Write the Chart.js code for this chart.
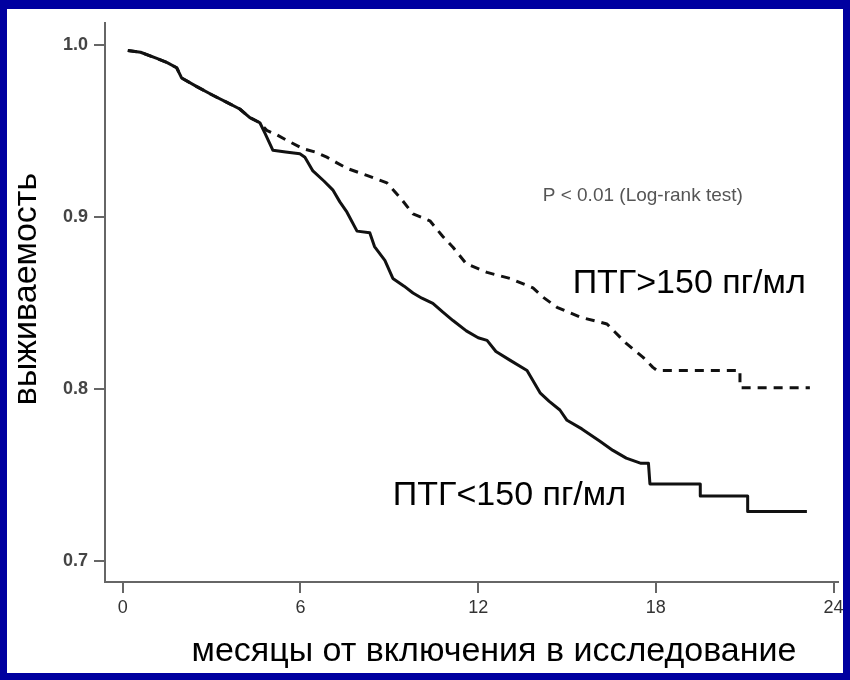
<!DOCTYPE html>
<html>
<head>
<meta charset="utf-8">
<script src="https://cdn.jsdelivr.net/npm/chart.js@4.4.1/dist/chart.umd.min.js"></script>
<style>
  html, body { margin: 0; padding: 0; background: #0000a0; }
  #wrap { width: 850px; height: 680px; }
</style>
</head>
<body>
<div id="wrap"><canvas id="km" width="850" height="680"></canvas></div>
<script>
const FONT = "'Liberation Sans', Arial, sans-serif";
const BLUE = '#0000a0';
const AXIS = '#666';

// both groups share the first ~4.6 months
const commonMonths = [0.17, 0.6, 1.15, 1.5, 1.82, 1.99, 2.5, 3.04, 3.5, 3.95, 4.29, 4.63];
const commonSurv   = [0.997, 0.996, 0.9924, 0.990, 0.987, 0.981, 0.976, 0.971, 0.967, 0.963, 0.958, 0.955];

// ПТГ<150 пг/мл (solid); repeated months mark the vertical drops of the tail
const lowMonths = [4.8, 5.07, 5.5, 5.98, 6.15, 6.42, 6.8, 7.09, 7.33, 7.57, 7.91, 8.34, 8.5, 8.85, 9.12,
  9.5, 9.8, 10.1, 10.47, 10.8, 11.15, 11.6, 12.0, 12.3, 12.6, 13.07, 13.65, 14.09, 14.4, 14.76, 15.0,
  15.5, 16.1, 16.55, 17.0, 17.5, 17.75, 17.8, 19.5, 19.5, 21.1, 21.1, 23.1];
const lowSurv = [0.949, 0.939, 0.938, 0.937, 0.935, 0.927, 0.921, 0.916, 0.909, 0.903, 0.892, 0.891, 0.883, 0.875, 0.8645,
  0.860, 0.856, 0.853, 0.850, 0.845, 0.840, 0.834, 0.830, 0.8285, 0.822, 0.817, 0.811, 0.798, 0.793, 0.788, 0.782,
  0.777, 0.770, 0.7645, 0.760, 0.757, 0.757, 0.745, 0.745, 0.738, 0.738, 0.729, 0.729];

// ПТГ>150 пг/мл (dashed)
const highMonths = [4.86, 5.2, 5.54, 6.08, 6.5, 6.89, 7.2, 7.57, 8.24, 8.92, 9.36, 9.8, 10.37, 10.8, 11.15,
  11.6, 12.3, 13.07, 13.85, 14.2, 14.66, 15.44, 16.35, 17.0, 17.57, 17.9, 18.04, 20.84, 20.84, 23.2];
const highSurv = [0.9506, 0.948, 0.9448, 0.940, 0.938, 0.935, 0.932, 0.9285, 0.9244, 0.920, 0.9116, 0.902, 0.898, 0.889, 0.8826,
  0.873, 0.868, 0.8645, 0.859, 0.8535, 0.8477, 0.842, 0.838, 0.8267, 0.8186, 0.8128, 0.811, 0.811, 0.801, 0.801];

const xTicks = [0, 6, 12, 18, 24];
const yTicks = [0.7, 0.8, 0.9, 1.0];

function toPoints(months, surv) {
  return months.map((m, i) => ({ x: m, y: surv[i] }));
}

const lowPoints  = toPoints(commonMonths.concat(lowMonths),  commonSurv.concat(lowSurv));
const highPoints = toPoints(commonMonths.concat(highMonths), commonSurv.concat(highSurv));

// blue slide frame with a white panel
const frame = {
  id: 'frame',
  beforeDraw(chart) {
    const c = chart.ctx;
    c.save();
    c.fillStyle = BLUE;
    c.fillRect(0, 0, chart.width, chart.height);
    c.fillStyle = '#fff';
    c.fillRect(7, 9, 836, 664);
    c.restore();
  },
};

// group labels, test note and axis titles
const notes = {
  id: 'notes',
  afterDraw(chart) {
    const c = chart.ctx;
    const xs = chart.scales.x, ys = chart.scales.y;
    c.save();
    c.textAlign = 'left';

    c.fillStyle = '#555';
    c.font = '19px ' + FONT;
    c.textBaseline = 'middle';
    c.fillText('P < 0.01 (Log-rank test)', xs.getPixelForValue(14.18), ys.getPixelForValue(0.9124));

    c.textBaseline = 'alphabetic';
    c.fillStyle = '#000';
    c.font = '34px ' + FONT;
    c.fillText('ПТГ>150 пг/мл', xs.getPixelForValue(15.19), ys.getPixelForValue(0.856));
    c.fillText('ПТГ<150 пг/мл', xs.getPixelForValue(9.12), ys.getPixelForValue(0.7328));

    c.textAlign = 'center';
    c.textBaseline = 'middle';
    c.font = '34px ' + FONT;
    c.fillText('месяцы от включения в исследование', 494, 652);

    c.translate(27, 289);
    c.rotate(-Math.PI / 2);
    c.font = '34px ' + FONT;
    c.fillText('выживаемость', 0, 0);
    c.restore();
  },
};

const lineStyle = { borderColor: '#111', borderWidth: 3, borderJoinStyle: 'round', pointRadius: 0, fill: false, tension: 0 };

new Chart(document.getElementById('km'), {
  type: 'line',
  data: {
    datasets: [
      { label: 'ПТГ<150 пг/мл', data: lowPoints, ...lineStyle },
      { label: 'ПТГ>150 пг/мл', data: highPoints, ...lineStyle, borderDash: [9, 7] },
    ],
  },
  options: {
    responsive: false, animation: false, devicePixelRatio: 1,
    layout: { padding: { top: 23, right: 12, left: 0, bottom: 0 } },
    plugins: { legend: { display: false }, tooltip: { enabled: false } },
    scales: {
      x: {
        type: 'linear', min: -0.6, max: 24.15,
        afterBuildTicks: s => { s.ticks = xTicks.map(v => ({ value: v })); },
        afterFit: s => { s.height = 98; s.paddingLeft = 0; s.paddingRight = 0; },
        grid: { drawOnChartArea: false, tickLength: 11, tickColor: AXIS, lineWidth: 2 },
        border: { color: AXIS, width: 2 },
        ticks: { color: '#333', font: { family: FONT, size: 18 }, padding: 4, maxRotation: 0 },
      },
      y: {
        min: 0.688, max: 1.013,
        afterBuildTicks: s => { s.ticks = yTicks.map(v => ({ value: v })); },
        afterFit: s => { s.width = 105; s.paddingTop = 0; s.paddingBottom = 0; },
        grid: { drawOnChartArea: false, tickLength: 11, tickColor: AXIS, lineWidth: 2 },
        border: { color: AXIS, width: 2 },
        ticks: { color: '#444', font: { family: FONT, size: 18, weight: 'bold' }, padding: 6, callback: v => v.toFixed(1) },
      },
    },
  },
  plugins: [frame, notes],
});
</script>
</body>
</html>
